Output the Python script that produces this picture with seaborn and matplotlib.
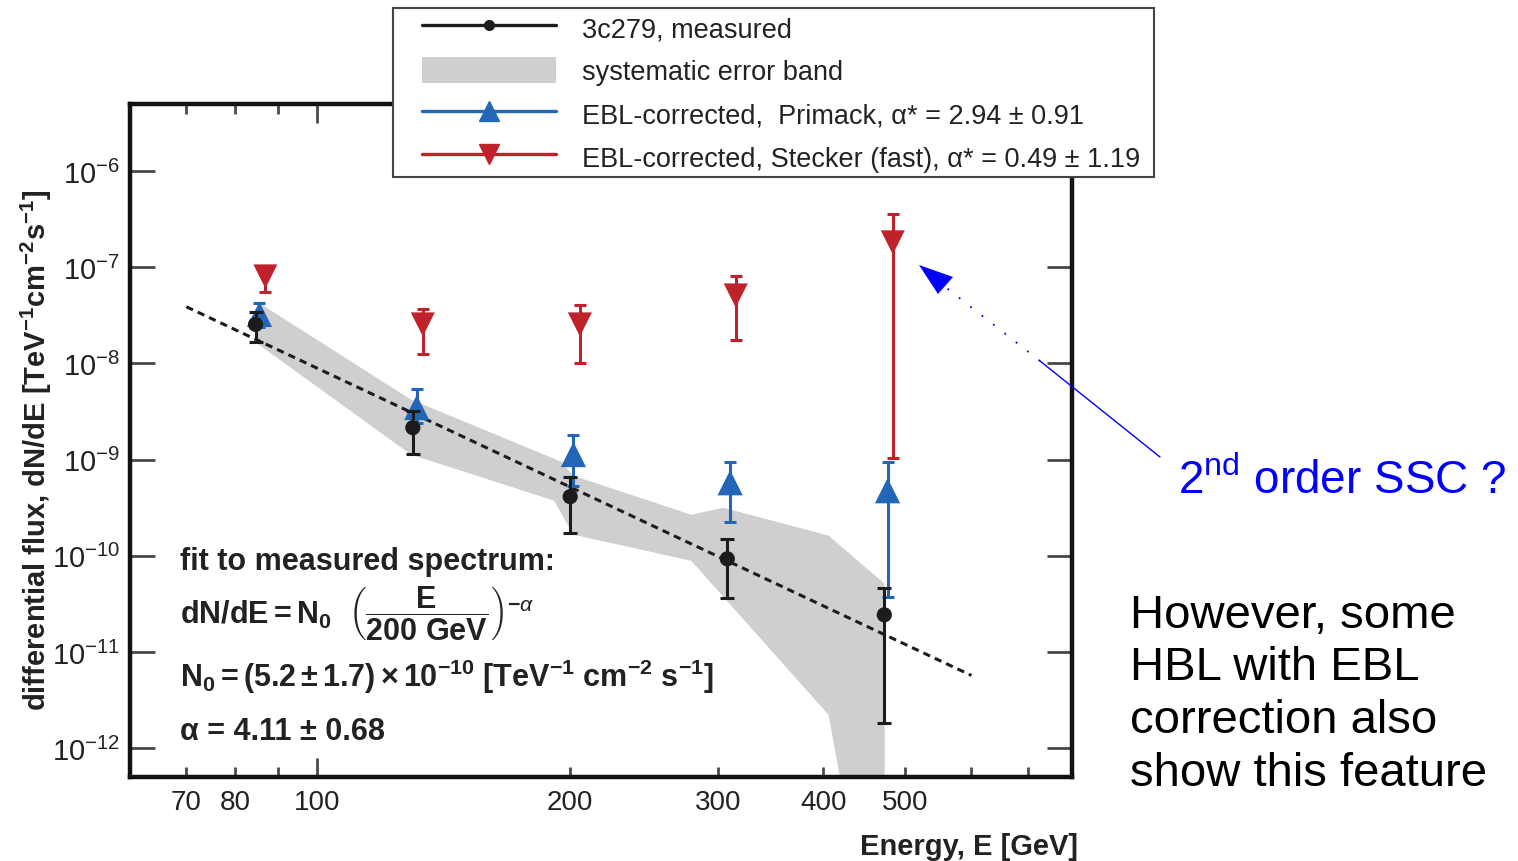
import matplotlib
matplotlib.use("Agg")
import matplotlib.pyplot as plt
import seaborn as sns
from matplotlib.lines import Line2D
from matplotlib.patches import Patch, Polygon, Rectangle
from matplotlib.ticker import FixedLocator, FixedFormatter, NullLocator

# ---- measured spectrum of 3C 279 (E in GeV, dN/dE in TeV^-1 cm^-2 s^-1) ----
energy_meas = [84.6, 130.1, 200.1, 307.6, 472.7]
flux_meas = [2.55e-8, 2.15e-9, 4.12e-10, 9.3e-11, 2.43e-11]
flux_meas_hi = [3.4e-8, 3.24e-9, 6.65e-10, 1.5e-10, 4.64e-11]
flux_meas_lo = [1.69e-8, 1.155e-9, 1.74e-10, 3.65e-11, 1.82e-12]

# ---- EBL-corrected, Primack ----
energy_primack = [85.5, 131.5, 201.9, 310.0, 476.9]
flux_primack = [3.24e-8, 3.48e-9, 1.13e-9, 5.75e-10, 4.75e-10]
flux_primack_hi = [4.3e-8, 5.37e-9, 1.82e-9, 9.5e-10, 9.5e-10]
flux_primack_lo = [2.37e-8, 2.43e-9, 5.37e-10, 2.26e-10, 3.74e-11]

# ---- EBL-corrected, Stecker (fast) ----
energy_stecker = [86.9, 133.7, 205.5, 314.8, 483.8]
flux_stecker = [8.05e-8, 2.55e-8, 2.55e-8, 5.1e-8, 1.82e-7]
flux_stecker_hi = [9.0e-8, 3.65e-8, 4.02e-8, 8.05e-8, 3.56e-7]
flux_stecker_lo = [5.6e-8, 1.27e-8, 1.0e-8, 1.74e-8, 1.03e-9]

# ---- systematic error band outline: upper edge left->right, lower edge right->left ----
band_energy = [85.3, 129.4, 195.2, 201.7, 278.7, 304.3, 405.9, 473.2,
               473.2, 423.0, 405.9, 278.7, 201.7, 191.5, 129.4, 84.6]
band_flux = [4.3e-8, 4.22e-9, 9.53e-10, 6.81e-10, 2.67e-10, 3.16e-10, 1.62e-10, 5.11e-11,
             3e-13, 3e-13, 2.21e-12, 8.87e-11, 1.66e-10, 3.74e-10, 1.13e-9, 1.66e-8]

# ---- power-law fit to the measured points ----
fit_n0 = 5.2e-10
fit_alpha = 4.11
fit_e0 = 200.0
fit_energy = [70.0, 600.0]

# ---- axis ticks ----
xtick_major = [100]
xtick_minor = [70, 80, 90, 200, 300, 400, 500, 600, 700]
xtick_minor_labels = ["70", "80", "", "200", "300", "400", "500", "", ""]
ytick_exponents = [-12, -11, -10, -9, -8, -7, -6]

legend_labels = [
    "3c279, measured",
    "systematic error band",
    "EBL-corrected,  Primack, \u03b1* = 2.94 \u00b1 0.91",
    "EBL-corrected, Stecker (fast), \u03b1* = 0.49 \u00b1 1.19",
]

BLACK = "#1c1c1c"
BLUE = "#2366b8"
RED = "#c0222c"
GREY = "#cfcfcf"
TXT = "#222222"

sns.set_theme(style="ticks")
plt.rcParams["font.family"] = ["Liberation Sans", "DejaVu Sans"]
plt.rcParams["mathtext.fontset"] = "custom"
plt.rcParams["mathtext.rm"] = "Liberation Sans:bold"
plt.rcParams["mathtext.it"] = "Liberation Sans:italic"
plt.rcParams["mathtext.bf"] = "Liberation Sans:bold"
plt.rcParams["mathtext.sf"] = "Liberation Sans:bold"

W, H = 1518, 862
fig = plt.figure(figsize=(W / 100, H / 100), dpi=100)
fig.patch.set_facecolor("white")
ax = fig.add_axes([130 / W, 84 / H, 942 / W, 673 / H])
ax.set_facecolor("white")
ax.set_xscale("log")
ax.set_yscale("log")

# systematic band
ax.fill(band_energy, band_flux, color=GREY, lw=0, zorder=1)

# fit line
fit_flux = [fit_n0 * (e / fit_e0) ** (-fit_alpha) for e in fit_energy]
sns.lineplot(x=fit_energy, y=fit_flux, ax=ax, color=BLACK, lw=2.2,
             linestyle=(0, (2.4, 1.7)), zorder=2, legend=False)


def draw_series(energy, flux, hi, lo, color, marker, size, lw, cap, z):
    yerr = [[f - l for f, l in zip(flux, lo)], [h - f for f, h in zip(flux, hi)]]
    ax.errorbar(energy, flux, yerr=yerr, fmt="none", ecolor=color,
                elinewidth=lw, capsize=cap, capthick=lw, zorder=z)
    sns.scatterplot(x=energy, y=flux, ax=ax, marker=marker, s=size,
                    color=color, edgecolor="none", linewidth=0, zorder=z + 0.5,
                    legend=False)


draw_series(energy_primack, flux_primack, flux_primack_hi, flux_primack_lo,
            BLUE, "^", 330, 2.2, 4, 3)
draw_series(energy_meas, flux_meas, flux_meas_hi, flux_meas_lo,
            BLACK, "o", 120, 2.2, 5, 4)
draw_series(energy_stecker, flux_stecker, flux_stecker_hi, flux_stecker_lo,
            RED, "v", 300, 2.2, 4, 5)

ax.set_xlim(60, 790)
ax.set_ylim(5e-13, 5e-6)

# ticks
ax.xaxis.set_major_locator(FixedLocator(xtick_major))
ax.xaxis.set_major_formatter(FixedFormatter([str(v) for v in xtick_major]))
ax.set_xticks(xtick_minor, labels=xtick_minor_labels, minor=True)
ax.set_yticks([10.0 ** k for k in ytick_exponents],
              labels=[r"$\mathregular{10^{%d}}$" % k for k in ytick_exponents])
ax.yaxis.set_minor_locator(NullLocator())
ax.tick_params(which="both", direction="in", top=True, right=True,
               color="#4a4a4a", width=2)
ax.tick_params(axis="y", which="major", length=18, pad=7, labelsize=21)
ax.tick_params(axis="x", which="major", length=14, pad=9, labelsize=20)
ax.tick_params(axis="x", which="minor", length=7, pad=9, labelsize=20)
for lab in ax.get_xticklabels(which="both") + ax.get_yticklabels():
    lab.set_color(TXT)
for side in ["left", "right", "top", "bottom"]:
    ax.spines[side].set_linewidth(3.2)
    ax.spines[side].set_color("#111111")

# axis labels
ax.set_ylabel(r"differential flux, dN/dE [TeV$\mathregular{^{-1}}$cm$\mathregular{^{-2}}$s$\mathregular{^{-1}}$]",
              fontsize=21, fontweight="bold", color=TXT)
ax.yaxis.set_label_coords(-0.081, 0.487)
ax.set_xlabel("Energy, E [GeV]", fontsize=21, fontweight="bold",
              color=TXT, ha="right")
ax.xaxis.set_label_coords(1.006, -0.081)

# fit description
tk = dict(transform=ax.transAxes, fontsize=22, fontweight="bold",
          color=TXT, va="center", ha="left")
ax.text(0.053, 0.321, "fit to measured spectrum:", **tk)
ax.text(0.053, 0.245,
        r"$\mathregular{dN/dE = N_0}\ \ \left(\dfrac{\mathregular{E}}{\mathregular{200\ GeV}}\right)^{-\alpha}$",
        **tk)
ax.text(0.053, 0.150,
        r"$\mathregular{N_0 = (5.2 \pm 1.7) \times 10^{-10}\ [TeV^{-1}\ cm^{-2}\ s^{-1}]}$",
        **tk)
ax.text(0.053, 0.068, "\u03b1 = 4.11 \u00b1 0.68", **tk)


def fpx(x, y):
    return (x / W, 1 - y / H)


# legend: white box drawn separately, entries placed inside it
fig.add_artist(Rectangle(fpx(393, 178), 761 / W, 169 / H, transform=fig.transFigure,
                         facecolor="white", edgecolor="#444444", linewidth=1.5,
                         zorder=4))
handles = [
    Line2D([], [], color=BLACK, lw=2.4, marker="o", ms=7),
    Patch(facecolor=GREY, edgecolor="none"),
    Line2D([], [], color=BLUE, lw=2.4, marker="^", ms=15),
    Line2D([], [], color=RED, lw=2.4, marker="v", ms=15),
]
leg = fig.legend(handles, legend_labels, loc="upper left",
                 bbox_to_anchor=fpx(422, 15), borderaxespad=0, borderpad=0,
                 frameon=False, handlelength=4.95, handleheight=1.1,
                 handletextpad=0.96, labelspacing=0.55,
                 prop={"size": 19.5})
leg.set_zorder(5)
for t in leg.get_texts():
    t.set_color(TXT)

# annotation on the right
fig.text(*fpx(1178, 481), r"$\mathregular{2^{nd}}$ order SSC ?", color="#0000ff",
         fontsize=33, va="center", ha="left", fontweight="normal")
fig.text(*fpx(1130, 594), "However, some\nHBL with EBL\ncorrection also\nshow this feature",
         color="black", fontsize=34, va="top", ha="left", linespacing=1.25)

x0, y0 = fpx(1160, 458)
x1, y1 = fpx(1040, 362)
x2, y2 = fpx(944, 287)
fig.add_artist(Line2D([x0, x1], [y0, y1], transform=fig.transFigure,
                      color="#0000ff", lw=1.0))
fig.add_artist(Line2D([x1, x2], [y1, y2], transform=fig.transFigure,
                      color="#0000ff", lw=1.3, linestyle=(0, (1, 7))))
fig.add_artist(Polygon([fpx(919, 266), fpx(953, 278), fpx(938, 295)], closed=True,
                       transform=fig.transFigure, facecolor="#0000ff",
                       edgecolor="none"))

fig.savefig("out.png", dpi=100, facecolor="white")
